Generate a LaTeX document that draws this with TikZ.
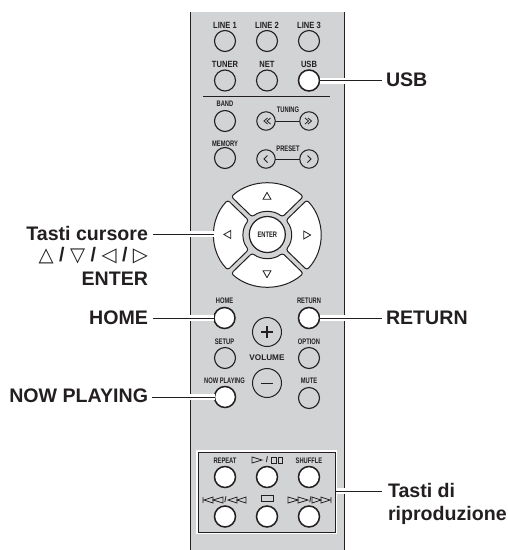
\documentclass[tikz,border=0pt]{standalone}
\usepackage{fontspec}
\setmainfont{Liberation Sans}
\newfontfamily\symf{DejaVu Sans}
\newfontfamily\condf[FakeStretch=0.84]{Liberation Sans}
\newfontfamily\narrf[FakeStretch=0.72]{Liberation Sans}
\definecolor{ink}{HTML}{231F20}
\definecolor{panelgray}{HTML}{D1D3D4}
\tikzset{
  btn/.style={circle,draw=ink,line width=1.1pt,fill=panelgray,minimum size=21pt,inner sep=0pt,outer sep=0pt},
  hot/.style={btn,fill=white,line width=1.5pt},
  nav/.style={btn,minimum size=18.5pt,line width=1pt},
  vol/.style={btn,minimum size=29pt,line width=1pt},
  tiny/.style={text=ink,inner sep=0pt,font=\narrf\bfseries\fontsize{8}{8}\selectfont},
  tinyw/.style={text=ink,inner sep=0pt,font=\condf\bfseries\fontsize{9}{9}\selectfont},
  lbl/.style={text=ink,inner sep=0pt,outer sep=0pt,font=\bfseries\fontsize{19.6}{19.6}\selectfont},
  halo/.style={white,line width=6pt},
  wire/.style={ink,line width=0.8pt},
  sector/.style={draw=ink,fill=white,line width=1pt,rounded corners=2.5pt},
  glyph/.style={draw=ink,line width=0.8pt,fill=none,line join=miter},
}
\newcommand{\tri}[3]{% centre x, y, rotation
  \draw[glyph,shift={(#1,#2)},rotate=#3] (90:4.6) -- (210:4.6) -- (330:4.6) -- cycle;}
\newcommand{\sect}[1]{%
  \draw[sector] (#1+2.7:53.5) arc[start angle=#1+2.7,end angle=#1+87.3,radius=53.5]
     -- (#1+84:24) arc[start angle=#1+84,end angle=#1+6,radius=24] -- cycle;}
\newcommand{\sym}[1]{{\symf\mdseries #1}}
\begin{document}
\begin{tikzpicture}[x=1pt,y=-1pt]
\useasboundingbox (0,0) rectangle (508,550);
% panel
\fill[panelgray] (190,12) rectangle (344,550);
\draw[ink,line width=0.9pt] (190,12) -- (190,550) (344,12) -- (344,550);
\draw[ink,line width=0.7pt] (203,96) -- (330,96);
% playback box
\draw[white,line width=2.6pt,fill=panelgray] (197,451) rectangle (336,533);
\draw[ink,line width=0.9pt] (198,452) rectangle (335,532);
% connector links between paired keys
\draw[ink,line width=0.8pt] (266,121) -- (309,121) (266,159) -- (309,159);
% keys
\node[btn] (line1) at (225,41) {};
\node[btn] (line2) at (267,41) {};
\node[btn] (line3) at (309,41) {};
\node[btn] (tuner) at (225,80.5) {};
\node[btn] (net) at (267,80.5) {};
\node[hot] (usb) at (309,80.5) {};
\node[btn] (band) at (225,121) {};
\node[nav] (tunl) at (266,121) {};
\node[nav] (tunr) at (309,121) {};
\node[btn] (memory) at (225,158) {};
\node[nav] (prel) at (266,159) {};
\node[nav] (prer) at (309,159) {};
\node[hot] (home) at (224.5,318) {};
\node[hot] (return) at (309,318) {};
\node[btn] (setup) at (225,358) {};
\node[btn] (option) at (309,358) {};
\node[vol] (plus) at (267,332) {};
\node[vol] (minus) at (267,383) {};
\node[hot] (nowpl) at (225,397) {};
\node[btn] (mute) at (309,398) {};
\node[hot] (repeat) at (225,477) {};
\node[hot] (play) at (267,477) {};
\node[hot] (shuffle) at (309,477) {};
\node[hot] (prev) at (225,516.5) {};
\node[hot] (stopk) at (267,516.5) {};
\node[hot] (next) at (309,516.5) {};
% d-pad
\begin{scope}[shift={(267.3,235)},yscale=0.97]
\sect{45}\sect{135}\sect{225}\sect{315}
\end{scope}
\node[circle,draw=ink,line width=1.2pt,fill=white,minimum size=36pt,inner sep=0pt,outer sep=0pt] (enter) at (267.3,234.5) {};
\node[tiny] at (enter) {ENTER};
\coordinate (dpadw) at (213.8,234);
\tri{267}{197}{180}
\tri{267}{273}{0}
\tri{228.5}{234.5}{-90}
\tri{306}{235}{90}
% small key labels
\node[tinyw] at (225,25) {LINE 1};
\node[tinyw] at (267,25) {LINE 2};
\node[tinyw] at (309,25) {LINE 3};
\node[tinyw] at (225,64.5) {TUNER};
\node[tinyw] at (267,64.5) {NET};
\node[tinyw] at (309,64.5) {USB};
\node[tiny] at (225,104) {BAND};
\node[tiny] at (288,110) {TUNING};
\node[tiny] at (225,143.5) {MEMORY};
\node[tiny] at (288,149) {PRESET};
\node[tiny] at (224.5,301) {HOME};
\node[tiny] at (309,301) {RETURN};
\node[tiny] at (224.5,342) {SETUP};
\node[tiny] at (309,342) {OPTION};
\node[tiny,font=\bfseries\fontsize{8.2}{8.2}\selectfont] at (267,358) {VOLUME};
\node[tiny] at (224.5,381) {NOW PLAYING};
\node[tiny] at (309,381) {MUTE};
\node[tiny] at (225,460.5) {REPEAT};
\node[tiny] at (309,461) {SHUFFLE};
% key glyphs
\draw[glyph] (267.5,118) -- (264,121) -- (267.5,124) (270.5,118) -- (267,121) -- (270.5,124);
\draw[glyph] (305,118) -- (308.5,121) -- (305,124) (308,118) -- (311.5,121) -- (308,124);
\draw[glyph] (267.5,155.5) -- (264,159) -- (267.5,162.5);
\draw[glyph] (307.5,155.5) -- (311,159) -- (307.5,162.5);
\draw[ink,line width=1.1pt] (261,332) -- (273,332) (267,326) -- (267,338);
\draw[ink,line width=1.1pt] (261,383.5) -- (273,383.5);
% play / pause
\draw[glyph] (252,457) -- (252,463) -- (262,460) -- cycle;
\node[text=ink,inner sep=0pt,font=\bfseries\fontsize{8}{8}\selectfont] at (267,460) {/};
\draw[glyph] (271.5,457) rectangle (276,463) (278,457) rectangle (282.5,463);
% skip back
\draw[glyph] (203,497) -- (203,503) (213,497) -- (204,500) -- (213,503) -- cycle (223,497) -- (213,500) -- (223,503) -- cycle;
\node[text=ink,inner sep=0pt,font=\bfseries\fontsize{8}{8}\selectfont] at (225.5,500) {/};
\draw[glyph] (237,497) -- (228,500) -- (237,503) -- cycle (246,497) -- (237,500) -- (246,503) -- cycle;
% stop
\draw[glyph] (261,495.5) rectangle (273,501.5);
% skip forward
\draw[glyph] (288,497) -- (298,500) -- (288,503) -- cycle (298,497) -- (308,500) -- (298,503) -- cycle;
\node[text=ink,inner sep=0pt,font=\bfseries\fontsize{8}{8}\selectfont] at (310.5,500) {/};
\draw[glyph] (312,497) -- (321,500) -- (312,503) -- cycle (321,497) -- (330,500) -- (321,503) -- cycle (331,497) -- (331,503);
% outside labels
\node[lbl,anchor=west] (lusb) at (386,80) {USB};
\node[lbl,anchor=east] (lcur) at (148,233) {Tasti cursore};
\node[lbl,anchor=east] (lsym) at (148,256) {\sym{△} / \sym{▽} / \sym{◁} / \sym{▷}};
\node[lbl,anchor=east] (lent) at (148,279) {ENTER};
\node[lbl,anchor=east] (lhome) at (148,317.5) {HOME};
\node[lbl,anchor=east] (lnow) at (148,396) {NOW PLAYING};
\node[lbl,anchor=west] (lret) at (386,317.5) {RETURN};
\node[lbl,anchor=base west] (lrip) at (388,497) {Tasti di};
\node[lbl,anchor=base west] (lrip2) at (388,520.5) {riproduzione};
% connectors
\coordinate (usbend) at (381.5,80.5);
\coordinate (retend) at (381.5,318);
\coordinate (curend) at (153,234);
\coordinate (homeend) at (153,318);
\coordinate (nowend) at (152,397);
\coordinate (boxr) at (335.5,491);
\coordinate (ripend) at (382,491);
\draw[halo] (usb.east) -- (345,80.5);
\draw[wire] (usb.east) -- (usbend);
\draw[halo] (return.east) -- (345,318);
\draw[wire] (return.east) -- (retend);
\draw[halo] (189,234) -- (dpadw);
\draw[wire] (curend) -- (dpadw);
\draw[halo] (189,318) -- (home.west);
\draw[wire] (homeend) -- (home.west);
\draw[halo] (189,397) -- (nowpl.west);
\draw[wire] (nowend) -- (nowpl.west);
\draw[halo] (boxr) -- (345,491);
\draw[wire] (boxr) -- (ripend);
\end{tikzpicture}
\end{document}
